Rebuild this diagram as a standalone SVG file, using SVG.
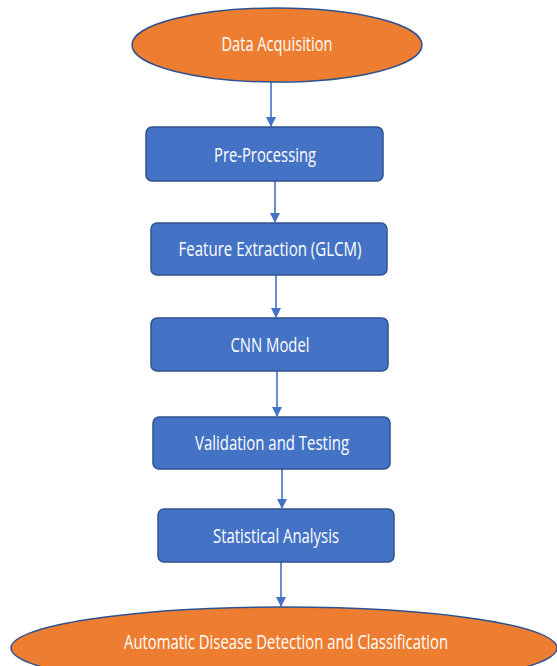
<svg xmlns="http://www.w3.org/2000/svg" width="557" height="666" viewBox="0 0 557 666">
<style>
.ell{fill:#ED7D31;stroke:#2F528F;stroke-width:1.5}
.box{fill:#4472C4;stroke:#2F528F;stroke-width:1.5}
.t{font-family:"Open Sans","Liberation Sans",sans-serif;font-size:20.5px;fill:#fff;text-anchor:middle}
.c{stroke:#4472C4;stroke-width:1.6;fill:none;marker-end:url(#ah)}
</style>
<defs>
<marker id="ah" markerWidth="10" markerHeight="12" refX="9" refY="5" orient="auto" markerUnits="userSpaceOnUse" viewBox="0 0 10 10">
<path d="M0,0 L10,5 L0,10 Z" fill="#4472C4"/>
</marker>
</defs>
<rect width="557" height="666" fill="#fff"/>
<g id="connectors">
<line class="c" x1="271" y1="82" x2="271" y2="126"/>
<line class="c" x1="275" y1="181" x2="275" y2="222"/>
<line class="c" x1="276" y1="275" x2="276" y2="317"/>
<line class="c" x1="277" y1="371" x2="277" y2="416"/>
<line class="c" x1="282" y1="469" x2="282" y2="508"/>
<line class="c" x1="281" y1="562" x2="281" y2="606"/>
</g>
<g id="data-acquisition">
<ellipse class="ell" cx="277" cy="45" rx="145" ry="37"/>
<text class="t" x="277" y="51" textLength="111" lengthAdjust="spacingAndGlyphs">Data Acquisition</text>
</g>
<g id="pre-processing">
<rect class="box" x="146" y="127" width="237" height="54" rx="6"/>
<text class="t" x="265" y="162" textLength="102" lengthAdjust="spacingAndGlyphs">Pre-Processing</text>
</g>
<g id="feature-extraction">
<rect class="box" x="151" y="223" width="236" height="52" rx="6"/>
<text class="t" x="270" y="256" textLength="183" lengthAdjust="spacingAndGlyphs">Feature Extraction (GLCM)</text>
</g>
<g id="cnn-model">
<rect class="box" x="151" y="318" width="237" height="53" rx="6"/>
<text class="t" x="270" y="352" textLength="79" lengthAdjust="spacingAndGlyphs">CNN Model</text>
</g>
<g id="validation-testing">
<rect class="box" x="153" y="417" width="237" height="52" rx="6"/>
<text class="t" x="272" y="450" textLength="154" lengthAdjust="spacingAndGlyphs">Validation and Testing</text>
</g>
<g id="statistical-analysis">
<rect class="box" x="158" y="509" width="236" height="53" rx="6"/>
<text class="t" x="276" y="543" textLength="126" lengthAdjust="spacingAndGlyphs">Statistical Analysis</text>
</g>
<g id="automatic-detection">
<ellipse class="ell" cx="284" cy="648" rx="273" ry="41"/>
<text class="t" x="286" y="649" textLength="324" lengthAdjust="spacingAndGlyphs">Automatic Disease Detection and Classification</text>
</g>
</svg>
